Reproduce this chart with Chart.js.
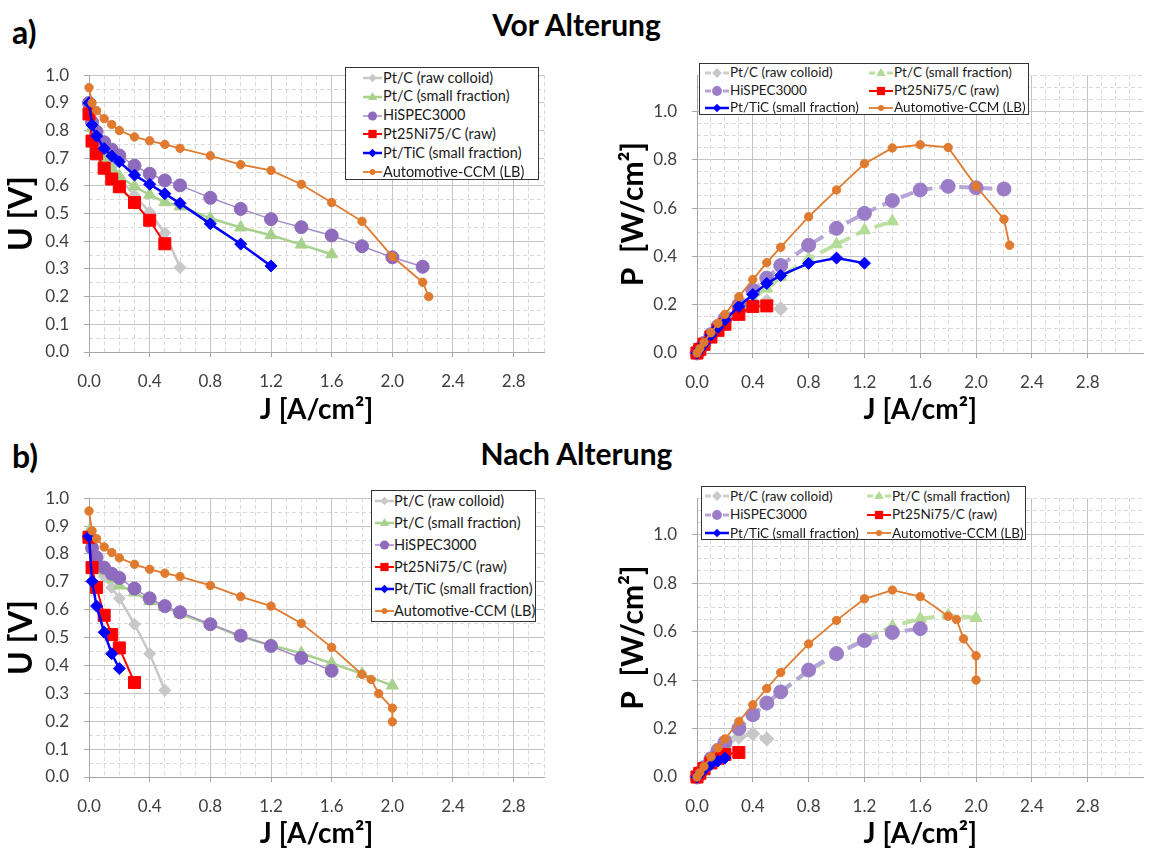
<!DOCTYPE html>
<html>
<head>
<meta charset="utf-8">
<script src="https://cdn.jsdelivr.net/npm/chart.js@4.4.0/dist/chart.umd.min.js"></script>
<style>
    body { margin: 0; background: #fff; }
    #page { position: relative; width: 1153px; height: 848px; overflow: hidden; font-family: Lato, "Open Sans", sans-serif; }
    canvas { position: absolute; }
    .head { position: absolute; font-weight: bold; color: #000; line-height: 1; white-space: nowrap; }
    .legend { position: absolute; border: 1px solid #333; background: #fff; box-sizing: border-box; }
    .item { position: absolute; white-space: nowrap; color: #1a1a1a; }
</style>
</head>
<body>
<div id="page">
    <div class="head" style="left:12px;top:16px;font-size:32px">a)</div>
    <div class="head" style="left:0;width:1153px;text-align:center;top:9px;font-size:30px">Vor Alterung</div>
    <div class="head" style="left:12px;top:440px;font-size:32px">b)</div>
    <div class="head" style="left:0;width:1153px;text-align:center;top:438px;font-size:30px">Nach Alterung</div>

    <canvas id="chartUa" width="560" height="380" style="left:0;top:50px"></canvas>
    <canvas id="chartPa" width="543" height="380" style="left:610px;top:50px"></canvas>
    <canvas id="chartUb" width="560" height="375" style="left:0;top:473px"></canvas>
    <canvas id="chartPb" width="543" height="375" style="left:610px;top:473px"></canvas>
</div>

<script>
    "use strict";

    // Series names (legend order)
    var SERIES_NAMES = ["Pt/C (raw colloid)", "Pt/C (small fraction)", "HiSPEC3000",
        "Pt25Ni75/C (raw)", "Pt/TiC (small fraction)", "Automotive-CCM (LB)"];

    // Tick labels
    var X_TICKS = [0, 0.4, 0.8, 1.2, 1.6, 2.0, 2.4, 2.8];
    var U_TICKS = [0, 0.1, 0.2, 0.3, 0.4, 0.5, 0.6, 0.7, 0.8, 0.9, 1.0];
    var P_TICKS = [0, 0.2, 0.4, 0.6, 0.8, 1.0];

    // a) Vor Alterung : current density J [A/cm2]
    var A_J_RAW    = [0, 0.02, 0.05, 0.1, 0.15, 0.2, 0.3, 0.4, 0.5, 0.6];
    var A_J_SMALL  = [0, 0.02, 0.05, 0.1, 0.15, 0.2, 0.3, 0.4, 0.5, 0.6, 0.8, 1.0, 1.2, 1.4, 1.6];
    var A_J_SMALL_P = [0, 0.02, 0.05, 0.1, 0.15, 0.2, 0.3, 0.4, 0.5, 0.6, 0.8, 1.0, 1.2, 1.4];
    var A_J_HISPEC = [0, 0.02, 0.05, 0.1, 0.15, 0.2, 0.3, 0.4, 0.5, 0.6, 0.8, 1.0, 1.2, 1.4, 1.6, 1.8, 2.0, 2.2];
    var A_J_PTNI   = [0, 0.02, 0.05, 0.1, 0.15, 0.2, 0.3, 0.4, 0.5];
    var A_J_TIC    = [0, 0.02, 0.05, 0.1, 0.15, 0.2, 0.3, 0.4, 0.5, 0.6, 0.8, 1.0, 1.2];
    var A_J_CCM    = [0, 0.02, 0.05, 0.1, 0.15, 0.2, 0.3, 0.4, 0.5, 0.6, 0.8, 1.0, 1.2, 1.4, 1.6, 1.8, 2.0, 2.2, 2.24];

    // a) cell voltage U [V]
    var A_U_RAW    = [0.89, 0.83, 0.78, 0.72, 0.67, 0.63, 0.565, 0.505, 0.43, 0.305];
    var A_U_SMALL  = [0.88, 0.81, 0.75, 0.70, 0.664, 0.635, 0.598, 0.568, 0.541, 0.526, 0.483, 0.45, 0.422, 0.388, 0.353];
    var A_U_HISPEC = [0.9, 0.83, 0.796, 0.758, 0.731, 0.71, 0.673, 0.644, 0.62, 0.602, 0.557, 0.517, 0.48, 0.451, 0.421, 0.382, 0.342, 0.308];
    var A_U_PTNI   = [0.86, 0.762, 0.716, 0.664, 0.625, 0.597, 0.54, 0.476, 0.391];
    var A_U_TIC    = [0.9, 0.82, 0.78, 0.735, 0.708, 0.687, 0.639, 0.606, 0.572, 0.537, 0.463, 0.39, 0.311];
    var A_U_CCM    = [0.955, 0.9, 0.872, 0.843, 0.822, 0.8, 0.777, 0.763, 0.75, 0.736, 0.709, 0.677, 0.656, 0.606, 0.54, 0.472, 0.345, 0.252, 0.2];

    // a) power density P [W/cm2]
    var A_P_RAW    = [0, 0.017, 0.039, 0.072, 0.1, 0.126, 0.17, 0.202, 0.215, 0.183];
    var A_P_SMALL  = [0, 0.016, 0.037, 0.07, 0.1, 0.127, 0.18, 0.227, 0.267, 0.314, 0.39, 0.45, 0.508, 0.545];
    var A_P_HISPEC = [0, 0.017, 0.04, 0.076, 0.11, 0.142, 0.2, 0.259, 0.31, 0.362, 0.446, 0.516, 0.578, 0.631, 0.675, 0.69, 0.684, 0.679];
    var A_P_PTNI   = [0, 0.015, 0.036, 0.066, 0.094, 0.119, 0.16, 0.193, 0.195];
    var A_P_TIC    = [0, 0.016, 0.039, 0.074, 0.106, 0.137, 0.193, 0.242, 0.288, 0.321, 0.371, 0.393, 0.372];
    var A_P_CCM    = [0, 0.018, 0.044, 0.084, 0.123, 0.16, 0.233, 0.304, 0.374, 0.438, 0.564, 0.675, 0.784, 0.849, 0.862, 0.851, 0.69, 0.554, 0.446];

    // b) Nach Alterung : current density J [A/cm2]
    var B_J_RAW    = [0, 0.02, 0.05, 0.1, 0.15, 0.2, 0.3, 0.4, 0.5];
    var B_J_SMALL  = [0, 0.02, 0.05, 0.1, 0.15, 0.2, 0.3, 0.4, 0.5, 0.6, 0.8, 1.0, 1.2, 1.4, 1.6, 1.8, 2.0];
    var B_J_HISPEC = [0, 0.02, 0.05, 0.1, 0.15, 0.2, 0.3, 0.4, 0.5, 0.6, 0.8, 1.0, 1.2, 1.4, 1.6];
    var B_J_PTNI   = [0, 0.02, 0.05, 0.1, 0.15, 0.2, 0.3];
    var B_J_TIC    = [0, 0.02, 0.05, 0.1, 0.15, 0.2];
    var B_J_CCM    = [0, 0.02, 0.05, 0.1, 0.15, 0.2, 0.3, 0.4, 0.5, 0.6, 0.8, 1.0, 1.2, 1.4, 1.6, 1.8, 1.86, 1.91, 2.0, 2.0];

    // b) cell voltage U [V]
    var B_U_RAW    = [0.86, 0.81, 0.77, 0.719, 0.679, 0.641, 0.548, 0.442, 0.311];
    var B_U_SMALL  = [0.88, 0.82, 0.78, 0.74, 0.711, 0.687, 0.662, 0.63, 0.61, 0.584, 0.548, 0.504, 0.473, 0.444, 0.408, 0.37, 0.328];
    var B_U_HISPEC = [0.86, 0.822, 0.788, 0.751, 0.729, 0.714, 0.676, 0.641, 0.613, 0.591, 0.548, 0.507, 0.47, 0.427, 0.381];
    var B_U_PTNI   = [0.86, 0.751, 0.68, 0.58, 0.511, 0.463, 0.339];
    var B_U_TIC    = [0.863, 0.702, 0.613, 0.519, 0.442, 0.389];
    var B_U_CCM    = [0.954, 0.883, 0.855, 0.825, 0.805, 0.786, 0.763, 0.745, 0.731, 0.719, 0.687, 0.647, 0.613, 0.551, 0.465, 0.368, 0.35, 0.299, 0.247, 0.198];

    // b) power density P [W/cm2]
    var B_P_RAW    = [0, 0.016, 0.039, 0.072, 0.102, 0.128, 0.165, 0.178, 0.157];
    var B_P_SMALL  = [0, 0.017, 0.04, 0.075, 0.107, 0.137, 0.199, 0.252, 0.305, 0.35, 0.437, 0.505, 0.568, 0.622, 0.653, 0.667, 0.656];
    var B_P_HISPEC = [0, 0.016, 0.039, 0.075, 0.11, 0.143, 0.2, 0.257, 0.305, 0.351, 0.441, 0.509, 0.563, 0.596, 0.612];
    var B_P_PTNI   = [0, 0.015, 0.034, 0.058, 0.077, 0.093, 0.101];
    var B_P_TIC    = [0, 0.014, 0.031, 0.052, 0.066, 0.078];
    var B_P_CCM    = [0, 0.018, 0.043, 0.083, 0.12, 0.157, 0.229, 0.298, 0.365, 0.431, 0.549, 0.646, 0.735, 0.771, 0.744, 0.663, 0.65, 0.57, 0.5, 0.4];


    var FONT = 'Lato, "Open Sans", sans-serif';

    // Series styles
    var RED = { line: "#ff0000", fill: "#ff0000", width: 2, shape: "rect", r: 8.5 };
    var BLUE = { line: "#0000ff", fill: "#0000ff", width: 2.5, shape: "rectRot", r: 6 };
    var ORANGE = { line: "#e07a2e", fill: "#e07a2e", width: 1.8, shape: "circle", r: 4.2 };
    var U_STYLES = [
        { line: "#c8c8c8", fill: "#c8c8c8", width: 2.5, shape: "rectRot", r: 6 },
        { line: "#a9d18e", fill: "#a9d18e", width: 2.5, shape: "triangle", r: 7 },
        { line: "#a58bcb", fill: "#8e6bbd", width: 1.5, shape: "circle", r: 6.5 },
        RED, BLUE, ORANGE
    ];
    var P_STYLES = [
        { line: "#cfcfcf", fill: "#c8c8c8", width: 4, dash: [13, 7], shape: "rectRot", r: 7 },
        { line: "#bde0a3", fill: "#b2db96", width: 4, dash: [13, 7], shape: "triangle", r: 7 },
        { line: "#b6a5d8", fill: "#9b7dc7", width: 4, dash: [13, 7], shape: "circle", r: 7 },
        RED, BLUE, ORANGE
    ];

    function pts(xs, ys) {
        return ys.map(function (y, i) { return { x: xs[i], y: y }; });
    }

    function steps(max, step) {
        var out = [];
        for (var i = 0; i * step <= max + 1e-9; i++) out.push({ value: Math.round(i * step * 1000) / 1000 });
        return out;
    }

    function isOn(v, step) {
        var q = v / step;
        return Math.abs(q - Math.round(q)) < 1e-6;
    }

    function makeChart(id, cfg) {
        var datasets = cfg.series.map(function (s, i) {
            var st = cfg.styles[i];
            return {
                label: SERIES_NAMES[i],
                data: pts(s[0], s[1]),
                showLine: true,
                borderColor: st.line,
                backgroundColor: st.fill,
                borderWidth: st.width,
                borderDash: st.dash || [],
                pointStyle: st.shape,
                pointRadius: st.r,
                pointBackgroundColor: st.fill,
                pointBorderColor: st.fill,
                pointBorderWidth: 1,
                order: 6 - i,
                clip: 12
            };
        });

        var tickFont = { family: FONT, size: 17 };
        var titleFont = { family: FONT, size: 28, weight: "bold", lineHeight: 1 };

        new Chart(document.getElementById(id), {
            type: "scatter",
            data: { datasets: datasets },
            options: {
                responsive: false,
                animation: false,
                events: [],
                layout: { padding: { left: 0, top: cfg.padTop, right: cfg.padRight, bottom: 0 } },
                plugins: { legend: { display: false }, tooltip: { enabled: false } },
                scales: {
                    x: {
                        type: "linear", position: "bottom", min: 0, max: cfg.xMax,
                        afterBuildTicks: function (s) { s.ticks = X_TICKS.map(function (v) { return { value: v }; }); },
                        afterFit: function (s) { s.height = cfg.xH; },
                        grid: { color: "#c4c4c4", lineWidth: 1, tickLength: 5, tickColor: "#a6a6a6" },
                        border: { color: "#a6a6a6", width: 1 },
                        ticks: {
                            autoSkip: false, maxRotation: 0, padding: 14, color: "#404040", font: tickFont,
                            callback: function (v) { return v.toFixed(1); }
                        },
                        title: {
                            display: true, text: "J [A/cm²]", color: "#000",
                            font: titleFont, padding: { top: 0, bottom: cfg.jPad }
                        }
                    },
                    y: {
                        type: "linear", position: "left", min: 0, max: cfg.yMax,
                        afterBuildTicks: function (s) { s.ticks = cfg.yTicks.map(function (v) { return { value: v }; }); },
                        afterFit: function (s) { s.width = cfg.yW; },
                        grid: { color: "#c4c4c4", lineWidth: 1, tickLength: 5, tickColor: "#a6a6a6" },
                        border: { color: "#a6a6a6", width: 1 },
                        ticks: {
                            autoSkip: false, padding: 15, color: "#404040", font: tickFont,
                            callback: function (v) { return v.toFixed(1); }
                        },
                        title: {
                            display: true, text: cfg.yTitle, color: "#000",
                            font: { family: FONT, size: cfg.yFs, weight: "bold", lineHeight: 1 },
                            padding: { top: cfg.yPad, bottom: 0 }
                        }
                    },
                    // minor (dashed) grid
                    xm: {
                        type: "linear", position: "bottom", min: 0, max: cfg.xMax,
                        afterBuildTicks: function (s) { s.ticks = steps(cfg.xMax, 0.1); },
                        afterFit: function (s) { s.height = 0; },
                        ticks: { display: false, autoSkip: false },
                        grid: {
                            drawTicks: false, lineWidth: 1,
                            color: function (c) { return (c.tick && isOn(c.tick.value, 0.4)) ? "rgba(0,0,0,0)" : "#d9d9d9"; }
                        },
                        border: { display: false, dash: [4, 3] }
                    },
                    ym: {
                        type: "linear", position: "left", min: 0, max: cfg.yMax,
                        afterBuildTicks: function (s) { s.ticks = steps(cfg.yMax, 0.05); },
                        afterFit: function (s) { s.width = 0; },
                        ticks: { display: false, autoSkip: false },
                        grid: {
                            drawTicks: false, lineWidth: 1,
                            color: function (c) { return (c.tick && isOn(c.tick.value, cfg.yMajor)) ? "rgba(0,0,0,0)" : "#d9d9d9"; }
                        },
                        border: { display: false, dash: [4, 3] }
                    }
                }
            }
        });
    }

    // Legend marker
    function drawMarker(ctx, shape, x, y, r, color) {
        ctx.fillStyle = color;
        ctx.beginPath();
        if (shape === "circle") {
            ctx.arc(x, y, r, 0, Math.PI * 2);
        } else if (shape === "rect") {
            ctx.rect(x - r * 0.75, y - r * 0.75, r * 1.5, r * 1.5);
        } else if (shape === "rectRot") {
            ctx.moveTo(x, y - r); ctx.lineTo(x + r, y); ctx.lineTo(x, y + r); ctx.lineTo(x - r, y);
            ctx.closePath();
        } else if (shape === "triangle") {
            ctx.moveTo(x, y - r); ctx.lineTo(x + r * 0.95, y + r * 0.6); ctx.lineTo(x - r * 0.95, y + r * 0.6);
            ctx.closePath();
        }
        ctx.fill();
    }

    function makeLegend(cfg, styles) {
        var page = document.getElementById("page");
        var box = document.createElement("div");
        box.className = "legend";
        box.style.left = cfg.left + "px";
        box.style.top = cfg.top + "px";
        box.style.width = cfg.w + "px";
        box.style.height = cfg.h + "px";
        SERIES_NAMES.forEach(function (name, i) {
            var col = i % cfg.cols, row = Math.floor(i / cfg.cols);
            var cy = cfg.firstY + row * cfg.rowH;
            var st = styles[i];

            var c = document.createElement("canvas");
            c.width = cfg.markW;
            c.height = 16;
            c.style.left = cfg.markX[col] + "px";
            c.style.top = (cy - 8) + "px";
            var ctx = c.getContext("2d");
            ctx.strokeStyle = st.line;
            ctx.lineWidth = Math.min(st.width, 3);
            ctx.setLineDash(st.dash ? [6, 3] : []);
            ctx.beginPath();
            ctx.moveTo(0, 8);
            ctx.lineTo(cfg.markW, 8);
            ctx.stroke();
            drawMarker(ctx, st.shape, cfg.markW / 2, 8, Math.min(st.r * 0.7, 5.5), st.fill);
            box.appendChild(c);

            var t = document.createElement("div");
            t.className = "item";
            t.textContent = name;
            t.style.left = cfg.textX[col] + "px";
            t.style.fontSize = cfg.fs + "px";
            t.style.lineHeight = cfg.rowH + "px";
            t.style.top = (cy - cfg.rowH / 2) + "px";
            box.appendChild(t);
        });
        page.appendChild(box);
    }

    makeChart("chartUa", {
        series: [[A_J_RAW, A_U_RAW], [A_J_SMALL, A_U_SMALL], [A_J_HISPEC, A_U_HISPEC],
                 [A_J_PTNI, A_U_PTNI], [A_J_TIC, A_U_TIC], [A_J_CCM, A_U_CCM]],
        styles: U_STYLES, xMax: 3.0, yMax: 1.0, yTicks: U_TICKS, yMajor: 0.1, yTitle: "U [V]", yFs: 32,
        padTop: 13, padRight: 16, xH: 78, yW: 89, jPad: 6, yPad: 6
    });
    makeChart("chartPa", {
        series: [[A_J_RAW, A_P_RAW], [A_J_SMALL_P, A_P_SMALL], [A_J_HISPEC, A_P_HISPEC],
                 [A_J_PTNI, A_P_PTNI], [A_J_TIC, A_P_TIC], [A_J_CCM, A_P_CCM]],
        styles: P_STYLES, xMax: 3.2, yMax: 1.15, yTicks: P_TICKS, yMajor: 0.2, yTitle: "P  [W/cm²]", yFs: 30,
        padTop: 12, padRight: 0, xH: 77, yW: 87, jPad: 6, yPad: 8
    });
    makeChart("chartUb", {
        series: [[B_J_RAW, B_U_RAW], [B_J_SMALL, B_U_SMALL], [B_J_HISPEC, B_U_HISPEC],
                 [B_J_PTNI, B_U_PTNI], [B_J_TIC, B_U_TIC], [B_J_CCM, B_U_CCM]],
        styles: U_STYLES, xMax: 3.0, yMax: 1.0, yTicks: U_TICKS, yMajor: 0.1, yTitle: "U [V]", yFs: 32,
        padTop: 12, padRight: 16, xH: 71, yW: 89, jPad: 0, yPad: 6
    });
    makeChart("chartPb", {
        series: [[B_J_RAW, B_P_RAW], [B_J_SMALL, B_P_SMALL], [B_J_HISPEC, B_P_HISPEC],
                 [B_J_PTNI, B_P_PTNI], [B_J_TIC, B_P_TIC], [B_J_CCM, B_P_CCM]],
        styles: P_STYLES, xMax: 3.2, yMax: 1.15, yTicks: P_TICKS, yMajor: 0.2, yTitle: "P  [W/cm²]", yFs: 30,
        padTop: 12, padRight: 0, xH: 71, yW: 87, jPad: 0, yPad: 8
    });

    // Legends
    makeLegend({ left: 345, top: 67, w: 194, h: 113, cols: 1, firstY: 10, rowH: 18.8,
                 markX: [17], markW: 19, textX: [37], fs: 14.5 }, U_STYLES);
    makeLegend({ left: 699, top: 63, w: 330, h: 52, cols: 2, firstY: 9, rowH: 17.6,
                 markX: [5, 169], markW: 24, textX: [30, 194], fs: 13.5 }, P_STYLES);
    makeLegend({ left: 371, top: 490, w: 165, h: 132, cols: 1, firstY: 10, rowH: 22,
                 markX: [3], markW: 19, textX: [22], fs: 14.5 }, U_STYLES);
    makeLegend({ left: 701, top: 486, w: 325, h: 54, cols: 2, firstY: 9, rowH: 18.5,
                 markX: [3, 165], markW: 24, textX: [28, 190], fs: 13.5 }, P_STYLES);
</script>
</body>
</html>
